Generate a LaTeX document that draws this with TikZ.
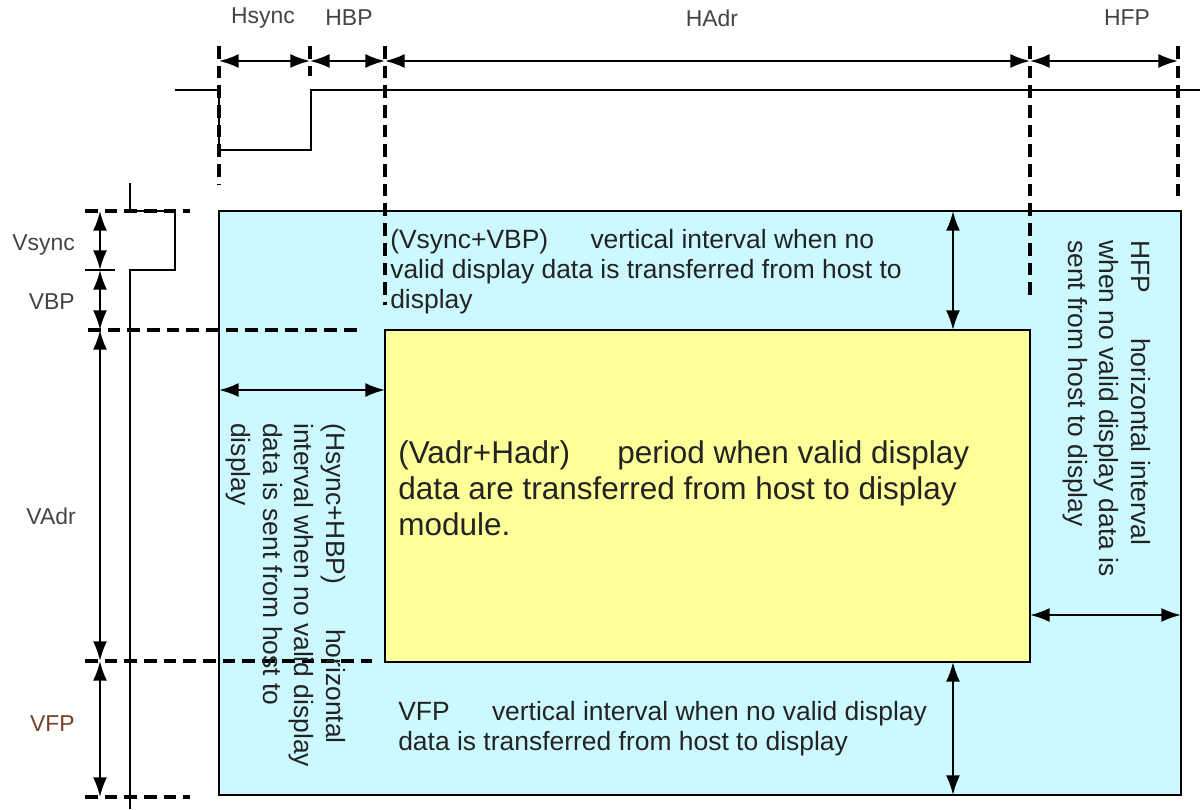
\documentclass[tikz,border=0pt]{standalone}
\usepackage{fontspec}
\setmainfont{Liberation Sans}
\usetikzlibrary{arrows.meta}

\definecolor{porchblue}{RGB}{204,249,255}
\definecolor{activeyellow}{RGB}{255,255,153}
\definecolor{inkgray}{RGB}{35,35,35}
\definecolor{vfpbrown}{RGB}{120,62,40}

\begin{document}
\begin{tikzpicture}
            [
                x=0.025cm, y=-0.025cm,
                >={Latex[length=14pt,width=10pt]},
                wire/.style={line width=1.5pt},
                guide/.style={line width=2.6pt, dash pattern=on 9pt off 5pt},
                span/.style={line width=1.5pt, <->},
                tag/.style={font=\fontsize{16.3}{18}\selectfont, text=inkgray!85, inner sep=0pt},
                note/.style={font=\fontsize{18.8}{21.3}\selectfont, text=inkgray, align=left, inner sep=0pt}
            ]
            \useasboundingbox (0,0) rectangle (1200,809);

            % porch area and active area
            \coordinate (frameNW) at (219,211);
            \coordinate (frameSE) at (1181,795);
            \coordinate (activeNW) at (385,330);
            \coordinate (activeSE) at (1030,662);
            \draw[wire, fill=porchblue] (frameNW) rectangle (frameSE);
            \draw[wire, fill=activeyellow] (activeNW) rectangle (activeSE);

            % sync waveforms
            \draw[wire] (175,90) -- (219,90) -- (219,150) -- (311,150) -- (311,90) -- (1200,90);
            \draw[wire] (130,183) -- (130,211) -- (175,211) -- (175,270) -- (130,270) -- (130,809);

            % horizontal timing
            \coordinate (h0) at (219,61);
            \coordinate (h1) at (310,61);
            \coordinate (h2) at (385,61);
            \coordinate (h3) at (1030,61);
            \coordinate (h4) at (1178,61);
            \draw[guide] (219,46) -- (219,185);
            \draw[guide] (310,46) -- (310,76);
            \draw[guide] (385,46) -- (385,305);
            \draw[guide] (1030,46) -- (1030,300);
            \draw[guide] (1178,46) -- (1178,200);
            \foreach \a/\b in {h0/h1, h1/h2, h2/h3, h3/h4}
                \draw[span] (\a) -- (\b);
            \node[tag] (hsyncTag) at (263,18) {Hsync};
            \node[tag] (hbpTag) at (349,18) {HBP};
            \node[tag] (hadrTag) at (712,18) {HAdr};
            \node[tag] (hfpTag) at (1127,18) {HFP};

            % vertical timing
            \coordinate (v0) at (100,211);
            \coordinate (v1) at (100,270);
            \coordinate (v2) at (100,330);
            \coordinate (v3) at (100,661);
            \coordinate (v4) at (100,797);
            \draw[guide] (85,211) -- (190,211);
            \draw[guide] (88,330) -- (358,330);
            \draw[guide] (85,661) -- (372,661);
            \draw[guide] (85,797) -- (190,797);
            \draw[line width=1pt] (85,270) -- (115,270);
            \foreach \a/\b in {v0/v1, v1/v2, v2/v3, v3/v4}
                \draw[span] (\a) -- (\b);
            \node[tag, anchor=east] (vsyncTag) at (75,245) {Vsync};
            \node[tag, anchor=east] (vbpTag) at (75,302) {VBP};
            \node[tag, anchor=east] (vadrTag) at (76,516) {VAdr};
            \node[tag, anchor=east, text=vfpbrown] (vfpTag) at (75,724) {VFP};

            % porch widths
            \coordinate (vbpTop) at (953,211);
            \coordinate (vbpBot) at (953,330);
            \coordinate (vfpTop) at (953,662);
            \coordinate (vfpBot) at (953,795);
            \coordinate (hbpL) at (219,390);
            \coordinate (hbpR) at (385,390);
            \coordinate (hfpL) at (1030,615);
            \coordinate (hfpR) at (1181,615);
            \draw[span] (vbpTop) -- (vbpBot);
            \draw[span] (vfpTop) -- (vfpBot);
            \draw[span] (hbpL) -- (hbpR);
            \draw[span] (hfpL) -- (hfpR);

            \node[note, anchor=north west] (vbpNote) at (390,229) {
                (Vsync+VBP)\hspace{1.6em}vertical interval when no\\
                valid display data is transferred from host to\\
                display};
            \node[note, anchor=north west] (vfpNote) at (398,701) {
                VFP\hspace{1.6em}vertical interval when no valid display\\
                data is transferred from host to display};
            \node[note, anchor=north west, rotate=-90, font=\fontsize{18.8}{22.5}\selectfont] (hbpNote) at (346,423) {
                (Hsync+HBP)\hspace{1.7em}horizontal\\
                interval when no valid display\\
                data is sent from host to\\
                display};
            \node[note, anchor=north west, rotate=-90, font=\fontsize{18.8}{22.5}\selectfont] (hfpNote) at (1151,240) {
                HFP\hspace{1.7em}horizontal interval\\
                when no valid display data is\\
                sent from host to display};
            \node[note, anchor=north west, font=\fontsize{22.4}{25.6}\selectfont] (activeNote) at (398,440) {
                (Vadr+Hadr)\hspace{1.5em}period when valid display\\
                data are transferred from host to display\\
                module.};
        \end{tikzpicture}
\end{document}
